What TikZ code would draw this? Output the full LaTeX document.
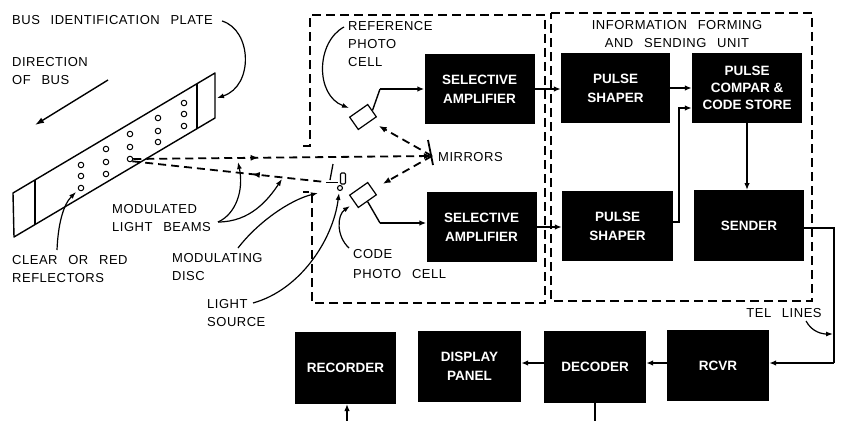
\documentclass[tikz,border=0pt]{standalone}
\usepackage{fontspec}
\newfontfamily\lblfont[LetterSpace=4,WordSpace=2.6]{Liberation Sans}
\newfontfamily\boxfont{Liberation Sans}
\usetikzlibrary{arrows.meta,decorations.markings}

\begin{document}
\begin{tikzpicture}[x=1pt,y=-1pt,
  lbl/.style={font=\lblfont\fontsize{13}{18}\selectfont, inner sep=0pt, align=left, anchor=west},
  blk/.style={fill=black, text=white, font=\boxfont\bfseries\fontsize{13.5}{19}\selectfont,
              align=center, inner sep=0pt, minimum width=110pt, minimum height=70pt},
  lowblk/.style={blk, minimum width=102pt, minimum height=71pt},
  wire/.style={line width=1.4pt},
  arr/.style={wire, -{Latex[length=7pt,width=5.5pt]}},
  ptr/.style={line width=1.2pt, -{Latex[length=7pt,width=5pt]}},
  unit/.style={line width=2.2pt, dash pattern=on 9pt off 5pt},
  beam/.style={line width=1.8pt, dash pattern=on 8pt off 5pt},
  beamtip/.style={-{Latex[length=8pt,width=6pt]}},
  cell/.style={draw, line width=1.2pt, minimum width=22pt, minimum height=15pt, inner sep=0pt, rotate=35},
  refl/.style={draw, circle, line width=1pt, minimum size=5.5pt, inner sep=0pt}]

\fill[white] (0,0) rectangle (842,420);
\useasboundingbox (0,0) rectangle (842,420);

% ---------- identification plate on the bus ----------
\draw[line width=1.4pt, line join=round] (13,193) -- (215,73) -- (215,118) -- (14,237) -- cycle;
\draw[line width=1.2pt] (35,180) -- (35,225);
\draw[line width=1.2pt] (197,84) -- (197,129);
\foreach \x/\y [count=\i] in {81/165,81/176,81/188, 106/149,106/162,106/174,
                              130/134,130/147,130/159, 158/118,158/131,158/142,
                              184/103,184/114,184/126}
  \node[refl] (r\i) at (\x,\y) {};

\node[lbl] (busplate) at (12,20) {BUS IDENTIFICATION PLATE};
\draw[ptr] (222,21) .. controls (252,30) and (254,86) .. (217,98);

\node[lbl] (dir) at (12,71) {DIRECTION\\OF BUS};
\draw[line width=1.4pt, -{Latex[length=9pt,width=6pt]}] (108,80) -- (35,125);

\node[lbl] (clear) at (12,269) {CLEAR OR RED\\REFLECTORS};
\draw[ptr] (57,250) .. controls (58,225) and (63,205) .. (76,192);

% ---------- photo cell unit ----------
\draw[unit] (303,146) -- (310,146) -- (310,15) -- (545,15) -- (545,303) -- (312,303) -- (312,192) -- (303,192);

\node[blk] (amp1) at (479.5,89) {SELECTIVE\\AMPLIFIER};
\node[blk] (amp2) at (481.5,227) {SELECTIVE\\AMPLIFIER};

\node[cell] (rc) at (363,117) {};
\node[cell] (cc) at (363,195) {};

\draw[wire] (rc.east) -- (380,89);
\draw[arr] (380,89) -- (amp1.west);
\draw[wire] (cc.south) -- (380,223);
\draw[arr] (380,223) -- (380,223 -| amp2.west);

\node[lbl] (refpc) at (348,44) {REFERENCE\\PHOTO\\CELL};
\draw[ptr] (344,27) .. controls (316,42) and (315,95) .. (349,108);

\node[lbl] (codepc) at (353,264) {CODE\\[2pt]PHOTO CELL};
\draw[ptr] (349,248) .. controls (336,236) and (337,215) .. (350,206);

% ---------- light source, modulating disc and mirrors ----------
\coordinate (mir) at (432,156);
\coordinate (disc) at (325,182);
\draw[line width=1.8pt] (428,140) -- (433,165);
\node[lbl] (mirrors) at (438,157) {MIRRORS};

\node[draw, circle, line width=1.1pt, minimum size=5pt, inner sep=0pt] (lamp) at (340,188) {};
\draw[line width=1.1pt, rounded corners=1.2pt] (340.5,173) rectangle (345.5,184);
\draw[line width=1.3pt] (333,164) -- (330,180);
\draw[line width=1.3pt] (326,182.5) -- (338,182.5);

% beam from the reflectors back to the mirrors
\draw[beam, beamtip, postaction={decorate}, decoration={markings,
      mark=at position 0.42 with {\arrow{Latex[length=8pt,width=6pt]}}}]
  (r9.east) -- (mir);
% modulated beam from the disc out to the plate
\draw[beam, postaction={decorate}, decoration={markings,
      mark=at position 0.62 with {\arrowreversed{Latex[length=8pt,width=6pt]}}}]
  (r9.south east) -- (disc);
% mirrors to the two photo cells
\draw[beam, beamtip, shorten >=9pt] (mir) -- (rc);
\draw[beam, beamtip, shorten >=11pt] (mir) -- (cc);

\node[lbl] (beams) at (112,218) {MODULATED\\LIGHT BEAMS};
\draw[ptr] (218,222) .. controls (236,214) and (244,190) .. (238,162);
\draw[ptr] (218,222) .. controls (250,222) and (268,200) .. (282,179);

\node[lbl] (mdisc) at (172,267.5) {MODULATING\\DISC};
\draw[ptr] (238,248) .. controls (258,222) and (290,200) .. (318,193);

\node[lbl] (lsrc) at (207,313.5) {LIGHT\\SOURCE};
\draw[ptr] (253,303) .. controls (300,290) and (333,240) .. (339,193);

% ---------- information forming and sending unit ----------
\draw[unit] (551,13) -- (812,13) -- (812,301) -- (551,301) -- cycle;
\node[lbl, anchor=center, align=center] (ifsu) at (677,34.5) {INFORMATION FORMING\\AND SENDING UNIT};

\node[blk, minimum width=109pt] (shp1) at (615.5,88) {PULSE\\SHAPER};
\node[blk, font=\boxfont\bfseries\fontsize{13.5}{17}\selectfont] (cmp) at (747,88) {PULSE\\COMPAR \&\\CODE STORE};
\node[blk, minimum width=111pt] (shp2) at (617.5,226) {PULSE\\SHAPER};
\node[blk, minimum height=71pt] (snd) at (749,225.5) {SENDER};

\draw[arr] (amp1.east) -- (amp1.east -| shp1.west);
\draw[arr] (amp2.east) -- (amp2.east -| shp2.west);
\draw[arr] (shp1.east) -- (shp1.east -| cmp.west);
\draw[arr] (shp2.east |- 0,222) -- (679,222) -- (679,108) -- (cmp.west |- 0,108);
\draw[arr] (747,123) -- (747,190);

% ---------- receiving end ----------
\node[lowblk, minimum width=101pt, minimum height=72pt] (rec) at (345.5,368) {RECORDER};
\node[lowblk, minimum width=103pt] (disp) at (469.5,366.5) {DISPLAY\\PANEL};
\node[lowblk, minimum height=72pt] (dec) at (595,367) {DECODER};
\node[lowblk] (rcv) at (718,365.5) {RCVR};

\draw[wire] (snd.east |- 0,228) -- (834,228) -- (834,363);
\draw[arr] (834,363) -- (rcv.east |- 0,363);
\node[lbl, anchor=center] (tel) at (784,313) {TEL LINES};
\draw[ptr] (806,321) .. controls (812,332) and (822,334) .. (833,334);

\draw[arr] (rcv.west |- 0,363) -- (dec.east |- 0,363);
\draw[arr] (dec.west |- 0,363) -- (disp.east |- 0,363);
\draw[arr] (dec.south) -- (595,440) -- (347,440) -- (347,404);

\end{tikzpicture}
\end{document}
